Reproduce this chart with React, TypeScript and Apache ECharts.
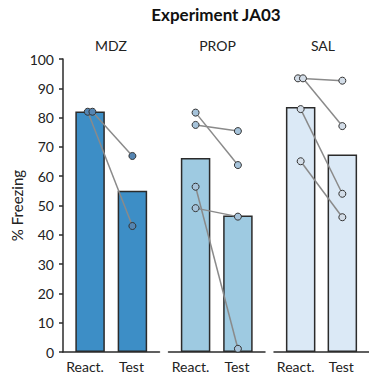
import { useEffect, useRef } from 'react';
import * as echarts from 'echarts';

// Treatment groups and session labels
const groups = ['MDZ', 'PROP', 'SAL'];
const phases = ['React.', 'Test'];

// Group mean % freezing per session
const reactMeans = [82.1, 66.2, 83.6];
const testMeans = [55.0, 46.6, 67.4];

// Individual animals, paired by index (React. -> Test)
const reactPoints = [
  [82.0, 82.0],
  [81.7, 77.5, 56.4, 49.1],
  [93.4, 93.4, 82.9, 65.1],
];
const testPoints = [
  [43.0, 66.9],
  [63.8, 75.4, 1.1, 46.2],
  [92.6, 77.1, 54.0, 46.0],
];
// Horizontal jitter of the React. dots (category units)
const reactJitter = [
  [-0.055, 0.055],
  [0, 0, 0, 0],
  [-0.065, 0.055, 0, 0],
];

const yTicks = { min: 0, max: 100, interval: 10 };

const barColors = ['#3d8ec6', '#9ecae1', '#dbe9f6'];
const dotColors = ['#5585b2', '#a6c3da', '#d3dde8'];

const FONT = 'Lato, "Open Sans", sans-serif';

export default function App() {
  const ref = useRef<HTMLDivElement>(null);

  useEffect(() => {
    if (!ref.current) return;
    const chart = echarts.init(ref.current, null, { renderer: 'svg' });

    const panelLeft = [63, 168.5, 274];
    const panelWidth = 96.5;
    const top = 59;
    const height = 293;

    const grids = groups.map((_, i) => ({
      left: panelLeft[i],
      top,
      width: panelWidth,
      height,
      containLabel: false,
    }));

    const xAxes = groups.map((_, i) => ({
      type: 'value',
      gridIndex: i,
      min: -0.64,
      max: 1.64,
      axisLine: { show: true, onZero: false, lineStyle: { color: '#2b2b2b', width: 1.5 } },
      axisTick: { show: false },
      splitLine: { show: false },
      axisLabel: {
        customValues: [0, 1],
        margin: 7,
        fontFamily: FONT,
        fontSize: 14,
        color: '#222',
        formatter: (v: number) => (v === 0 ? `{r|${phases[0]}}` : `{t|${phases[1]}}`),
        rich: {
          r: { fontFamily: FONT, fontSize: 14, color: '#222', padding: [0, 10, 0, 0] },
          t: { fontFamily: FONT, fontSize: 14, color: '#222', padding: [0, 2, 0, 0] },
        },
      },
    }));

    const yAxes = groups.map((_, i) => ({
      type: 'value',
      gridIndex: i,
      min: yTicks.min,
      max: yTicks.max,
      interval: yTicks.interval,
      show: i === 0,
      name: i === 0 ? '% Freezing' : '',
      nameLocation: 'middle',
      nameGap: 39,
      nameTextStyle: { fontFamily: FONT, fontSize: 15, color: '#222' },
      axisLine: { show: true, onZero: false, lineStyle: { color: '#2b2b2b', width: 1.5 } },
      axisTick: { show: true, length: 4, lineStyle: { color: '#2b2b2b', width: 1.5 } },
      splitLine: { show: false },
      axisLabel: { margin: 9, fontFamily: FONT, fontSize: 14, color: '#222' },
    }));

    const series: any[] = [];
    groups.forEach((_, i) => {
      series.push({
        type: 'bar',
        xAxisIndex: i,
        yAxisIndex: i,
        barWidth: 29.5,
        z: 2,
        itemStyle: { color: barColors[i], borderColor: '#2b2b2b', borderWidth: 1.5 },
        data: [
          [0, reactMeans[i]],
          [1, testMeans[i]],
        ],
      });
      reactPoints[i].forEach((r, k) => {
        series.push({
          type: 'line',
          xAxisIndex: i,
          yAxisIndex: i,
          symbol: 'none',
          z: 3,
          lineStyle: { color: '#8a8a8a', width: 1.5 },
          data: [
            [reactJitter[i][k], r],
            [1, testPoints[i][k]],
          ],
        });
      });
      const dots: number[][] = [];
      reactPoints[i].forEach((r, k) => dots.push([reactJitter[i][k], r]));
      testPoints[i].forEach((t) => dots.push([1, t]));
      series.push({
        type: 'scatter',
        xAxisIndex: i,
        yAxisIndex: i,
        symbol: 'circle',
        symbolSize: 7,
        z: 4,
        itemStyle: { color: dotColors[i], borderColor: '#333', borderWidth: 1, opacity: 1 },
        data: dots,
      });
    });

    const panelCenters = [111, 217.5, 323];
    const graphic: any[] = [
      {
        type: 'text',
        x: 216,
        y: 14,
        style: {
          text: 'Experiment JA03',
          font: `bold 17px ${FONT}`,
          fill: '#111',
          align: 'center',
          verticalAlign: 'middle',
        },
      },
      ...groups.map((g, i) => ({
        type: 'text',
        x: panelCenters[i],
        y: 45,
        style: {
          text: g,
          font: `14px ${FONT}`,
          fill: '#222',
          align: 'center',
          verticalAlign: 'middle',
        },
      })),
    ];

    chart.setOption({
      animation: false,
      backgroundColor: '#ffffff',
      grid: grids,
      xAxis: xAxes,
      yAxis: yAxes,
      series,
      graphic,
    });

    return () => chart.dispose();
  }, []);

  return (
    <div
      ref={ref}
      style={{ position: 'absolute', left: 0, top: 0, width: 369, height: 381 }}
    />
  );
}
